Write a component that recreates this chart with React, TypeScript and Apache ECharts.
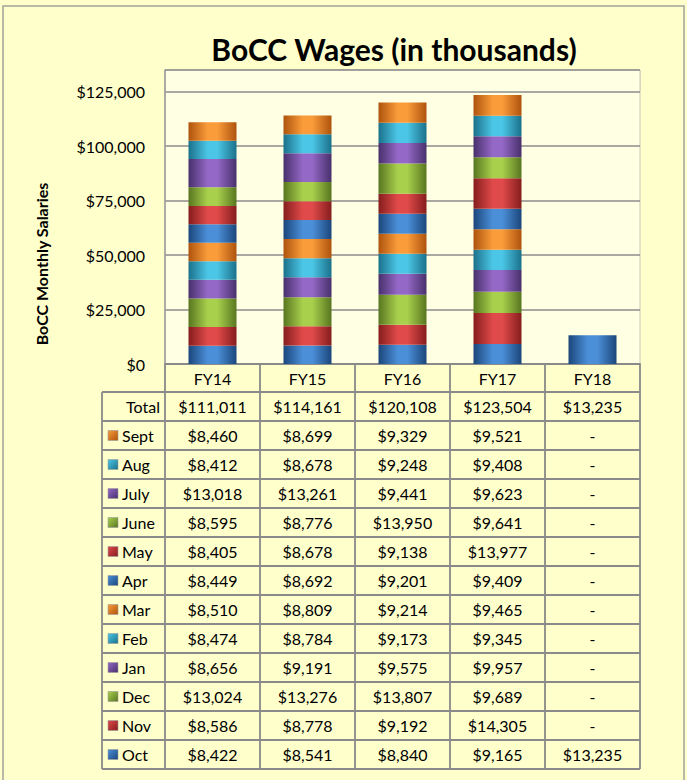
import React, { useEffect, useRef } from "react";
import * as echarts from "echarts";

const categories = ["FY14", "FY15", "FY16", "FY17", "FY18"];
// stack order, bottom to top
const months = ["Oct", "Nov", "Dec", "Jan", "Feb", "Mar", "Apr", "May", "June", "July", "Aug", "Sept"];
const octVals = [8422, 8541, 8840, 9165, 13235];
const novVals = [8586, 8778, 9192, 14305, null];
const decVals = [13024, 13276, 13807, 9689, null];
const janVals = [8656, 9191, 9575, 9957, null];
const febVals = [8474, 8784, 9173, 9345, null];
const marVals = [8510, 8809, 9214, 9465, null];
const aprVals = [8449, 8692, 9201, 9409, null];
const mayVals = [8405, 8678, 9138, 13977, null];
const junVals = [8595, 8776, 13950, 9641, null];
const julVals = [13018, 13261, 9441, 9623, null];
const augVals = [8412, 8678, 9248, 9408, null];
const sepVals = [8460, 8699, 9329, 9521, null];
const totals = [111011, 114161, 120108, 123504, 13235];
const yTicks = [0, 25000, 50000, 75000, 100000, 125000];

const monthValues: (number | null)[][] = [
  octVals, novVals, decVals, janVals, febVals, marVals,
  aprVals, mayVals, junVals, julVals, augVals, sepVals,
];

// [edge dark, center light]
const palette: Record<string, [string, string]> = {
  blue: ["#1b467b", "#4b8fd8"],
  red: ["#861d1d", "#e04a4a"],
  green: ["#587620", "#a9d04c"],
  purple: ["#48306c", "#9468c6"],
  aqua: ["#1a718b", "#4cc6e6"],
  orange: ["#ae530d", "#fa9c3a"],
};
const monthColor = ["blue", "red", "green", "purple", "aqua", "orange", "blue", "red", "green", "purple", "aqua", "orange"];

const FONT = "Lato, 'Open Sans', sans-serif";

function grad(c: string) {
  const [d, l] = palette[c];
  return new echarts.graphic.LinearGradient(0, 0, 1, 0, [
    { offset: 0, color: d },
    { offset: 0.4, color: l },
    { offset: 0.6, color: l },
    { offset: 1, color: d },
  ]);
}
function gradIcon(c: string) {
  const [d, l] = palette[c];
  return new echarts.graphic.LinearGradient(0, 0, 1, 1, [
    { offset: 0, color: l },
    { offset: 1, color: d },
  ]);
}

function fmt(v: number | null) {
  if (v === null || v === undefined) return "-";
  return "$" + v.toLocaleString("en-US");
}

export default function App() {
  const ref = useRef<HTMLDivElement>(null);
  useEffect(() => {
    if (!ref.current) return;
    const chart = echarts.init(ref.current, null, { renderer: "svg" });

    const plotL = 165, plotR = 640, plotT = 70, plotB = 364;
    const colW = (plotR - plotL) / categories.length;
    const tableL = 102;
    const headerBottom = 392;
    const rowH = 29;
    const rows = 13;
    const tableBottom = headerBottom + rowH * rows;
    const lineStyle = { stroke: "#8a8a8a", lineWidth: 1.8 };

    const g: any[] = [];
    // outer border
    g.push({ type: "rect", shape: { x: 3, y: 6, width: 681, height: 790 }, style: { fill: "none", stroke: "#a3a39a", lineWidth: 1.5 }, z: -1 });
    // lighter top strip of plot area
    g.push({ type: "rect", shape: { x: plotL, y: plotT, width: plotR - plotL, height: 21 }, style: { fill: "#fffff0", stroke: "#c9c9b8", lineWidth: 1 }, z: -1 });
    // title
    g.push({ type: "text", x: 394, y: 49, style: { text: "BoCC Wages (in thousands)", fontSize: 30, fontWeight: "bold", fontFamily: FONT, fill: "#000", align: "center", verticalAlign: "middle", textAlign: "center", textVerticalAlign: "middle" } });
    // y axis name
    g.push({ type: "text", x: 41, y: 264, rotation: Math.PI / 2, style: { text: "BoCC Monthly Salaries", fontSize: 16, fontWeight: "bold", fontFamily: FONT, fill: "#000", align: "center", verticalAlign: "middle", textAlign: "center", textVerticalAlign: "middle" } });

    // table lines
    for (let i = 0; i <= categories.length; i++) {
      const x = plotL + colW * i;
      g.push({ type: "line", shape: { x1: x, y1: plotB, x2: x, y2: tableBottom }, style: lineStyle });
    }
    g.push({ type: "line", shape: { x1: tableL, y1: headerBottom, x2: tableL, y2: tableBottom }, style: lineStyle });
    for (let r = 0; r <= rows; r++) {
      const y = headerBottom + rowH * r;
      g.push({ type: "line", shape: { x1: tableL, y1: y, x2: plotR, y2: y }, style: lineStyle });
    }
    const txt = (text: string, x: number, y: number, align: string) => ({
      type: "text", x, y,
      style: { text, fontSize: 16, fontFamily: FONT, fill: "#000", align, verticalAlign: "middle", textAlign: align, textVerticalAlign: "middle" },
    });
    // Total row
    const totalY = headerBottom + rowH / 2;
    g.push(txt("Total", 160, totalY, "right"));
    totals.forEach((v, i) => g.push(txt(fmt(v), plotL + colW * (i + 0.5), totalY, "center")));
    // month rows (top: Sept ... bottom: Oct)
    for (let k = 0; k < months.length; k++) {
      const m = months.length - 1 - k;
      const y = headerBottom + rowH * (k + 1) + rowH / 2;
      g.push({ type: "rect", shape: { x: 108, y: y - 5, width: 10, height: 10 }, style: { fill: gradIcon(monthColor[m]), stroke: "#9a9a9a", lineWidth: 0.6 } });
      g.push(txt(months[m], 122, y, "left"));
      monthValues[m].forEach((v, i) => g.push(txt(fmt(v), plotL + colW * (i + 0.5), y, "center")));
    }

    const series = months.map((m, i) => ({
      name: m,
      type: "bar",
      stack: "total",
      barWidth: 48,
      data: monthValues[i],
      itemStyle: { color: grad(monthColor[i]) },
    }));

    chart.setOption({
      animation: false,
      backgroundColor: "#ffffcc",
      textStyle: { fontFamily: FONT },
      grid: {
        left: plotL, top: plotT, width: plotR - plotL, height: plotB - plotT,
        show: true, backgroundColor: "#ffffe4", borderColor: "#c9c9b8", borderWidth: 1,
      },
      xAxis: {
        type: "category",
        data: categories,
        axisLine: { show: true, lineStyle: { color: "#8a8a8a", width: 1.8 } },
        axisTick: { show: false },
        axisLabel: { fontSize: 16, color: "#000", fontFamily: FONT, margin: 6 },
      },
      yAxis: {
        type: "value",
        min: 0,
        max: 135000,
        interval: 25000,
        axisLine: { show: true, lineStyle: { color: "#9a9a9a", width: 1.5 } },
        axisTick: { show: false },
        splitLine: { show: true, lineStyle: { color: "#8c8c8c", width: 1.5 } },
        axisLabel: {
          fontSize: 16, color: "#000", fontFamily: FONT, margin: 20,
          formatter: (v: number) => (yTicks.includes(v) ? "$" + v.toLocaleString("en-US") : ""),
        },
      },
      series,
      graphic: { elements: g },
    });
    return () => chart.dispose();
  }, []);
  return <div ref={ref} style={{ position: "fixed", left: 0, top: 0, width: 687, height: 780 }} />;
}
